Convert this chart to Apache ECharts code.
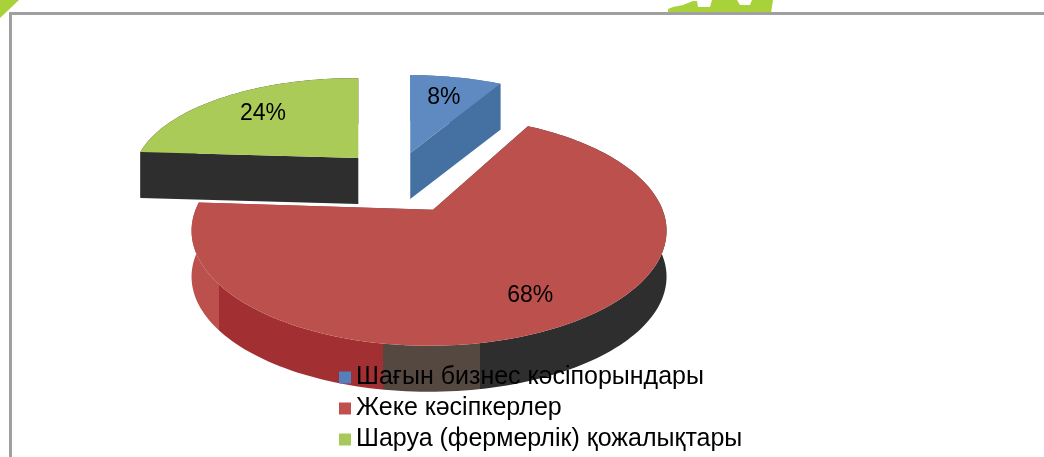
<!DOCTYPE html>
<html>
<head>
<meta charset="utf-8">
<script src="https://cdn.jsdelivr.net/npm/echarts@6.0.0/dist/echarts.min.js"></script>
<style>
html,body{margin:0;padding:0;background:#fff;}
#main{width:1044px;height:457px;}
</style>
</head>
<body>
<div id="main"></div>
<script>
// данные диаграммы
var categories = ['Шағын бизнес кәсіпорындары', 'Жеке кәсіпкерлер', 'Шаруа (фермерлік) қожалықтары'];
var values = [8, 68, 24];

// оформление
var legendColors = ['#5580be', '#c0504d', '#a6c95a'];
var topColors = ['#5e8ac1', '#bc504c', '#abcb59'];
var pie = { x: 397, y: 178, rx: 237.5, ry: 115, depth: 46, lift: 21, shift: 4 };
var explode = [0.224, 0.315, 0.238];   // вынос сектора
var scaleX = [0.95, 1, 0.93];          // дальние сектора по-своему сжаты
var scaleY = [0.83, 1, 0.85];
var labelPos = [0.6, 0.85, 0.63];

var redWall = new echarts.graphic.LinearGradient(190, 0, 665, 0, [
	{offset: 0, color: '#bc504c'}, {offset: 0.061, color: '#bc504c'},
	{offset: 0.061, color: '#a22f31'}, {offset: 0.406, color: '#a22f31'},
	{offset: 0.406, color: '#544840'}, {offset: 0.61, color: '#544840'},
	{offset: 0.61, color: '#2e2e2e'}, {offset: 1, color: '#2e2e2e'}
], true);
var wallColors = ['#4470a2', redWall, '#2e2e2e'];

var total = values.reduce(function(a, b){ return a + b; }, 0);

function sliceGeom(i){
	var before = 0;
	for (var k = 0; k < i; k++) before += values[k];
	var start = 90 - before / total * 360;
	var end = start - values[i] / total * 360;
	var mid = (start + end) / 2 * Math.PI / 180;
	var g = {
		start: start, end: end, mid: mid,
		rx: pie.rx * scaleX[i], ry: pie.ry * scaleY[i]
	};
	g.v = [pie.x + explode[i] * Math.cos(mid) * pie.rx, pie.y - explode[i] * Math.sin(mid) * pie.ry];
	g.c = [g.v[0] - pie.shift * scaleX[i], g.v[1] + pie.lift * scaleY[i]];
	return g;
}

// точка на краю эллипса по лучу из вершины сектора
function rim(g, deg){
	var t = deg * Math.PI / 180;
	var a = Math.cos(t), b = -Math.sin(t);
	var u = (g.v[0] - g.c[0]) / g.rx, w = (g.v[1] - g.c[1]) / g.ry;
	var p = u * a + w * b;
	var q = u * u + w * w - 1;
	var d = -p + Math.sqrt(p * p - q);
	return [g.v[0] + a * g.rx * d, g.v[1] + b * g.ry * d];
}

function down(p){ return [p[0], p[1] + pie.depth]; }

function renderSlice(i){
	return function(params, api){
		var g = sliceGeom(i);
		var arc = [];
		var n = Math.max(4, Math.ceil((g.start - g.end) / 1.5));
		for (var k = 0; k <= n; k++) {
			arc.push(rim(g, g.start + (g.end - g.start) * k / n));
		}
		var p0 = arc[0], p1 = arc[arc.length - 1];
		var children = [];
		// боковая стенка по дуге
		var wall = arc.slice();
		for (var k = arc.length - 1; k >= 0; k--) wall.push(down(arc[k]));
		children.push({type: 'polygon', shape: {points: wall}, style: {fill: wallColors[i]}});
		// радиальные стенки
		children.push({type: 'polygon', shape: {points: [g.v, p0, down(p0), down(g.v)]}, style: {fill: wallColors[i]}});
		children.push({type: 'polygon', shape: {points: [g.v, p1, down(p1), down(g.v)]}, style: {fill: wallColors[i]}});
		// верх сектора
		children.push({type: 'polygon', shape: {points: [g.v].concat(arc)}, style: {fill: topColors[i]}});
		var f = labelPos[i];
		children.push({
			type: 'text',
			style: {
				text: values[i] + '%',
				x: g.v[0] + f * Math.cos(g.mid) * g.rx,
				y: g.v[1] - f * Math.sin(g.mid) * g.ry,
				align: 'center', verticalAlign: 'middle',
				fill: '#000', fontSize: 23, fontFamily: 'Liberation Sans'
			}
		});
		return {type: 'group', children: children};
	};
}

var series = [];
for (var i = 0; i < categories.length; i++) {
	series.push({
		type: 'custom',
		name: categories[i],
		coordinateSystem: 'none',
		data: [values[i]],
		renderItem: renderSlice(i),
		itemStyle: {color: legendColors[i]},
		z: i == 1 ? 3 : 2,
		silent: true
	});
}

var chart = echarts.init(document.getElementById('main'));
chart.setOption({
	backgroundColor: '#ffffff',
	animation: false,
	legend: {
		orient: 'vertical',
		left: 339,
		top: 365,
		height: 120,
		padding: 0,
		itemWidth: 12,
		itemHeight: 12,
		itemGap: 6,
		icon: 'rect',
		data: categories,
		textStyle: {fontSize: 25, fontFamily: 'Liberation Sans', color: '#000', lineHeight: 25}
	},
	graphic: [
		{type: 'polygon', shape: {points: [[0, 0], [19, 0], [0, 18]]}, style: {fill: '#a9d13a'}},
		{type: 'polygon', shape: {points: [[668, 13], [668, 9], [673, 7], [683, 5], [693, 1], [697, 1], [698, 7], [710, 7], [712, 0], [737, 0], [740, 5], [750, 5], [752, 0], [773, 0], [771, 13]]}, style: {fill: '#a9d13a'}},
		{type: 'polyline', shape: {points: [[10.5, 470], [10.5, 13.5], [1060, 13.5]]}, style: {stroke: '#a0a0a0', lineWidth: 3, fill: 'none'}}
	],
	series: series
});
</script>
</body>
</html>
